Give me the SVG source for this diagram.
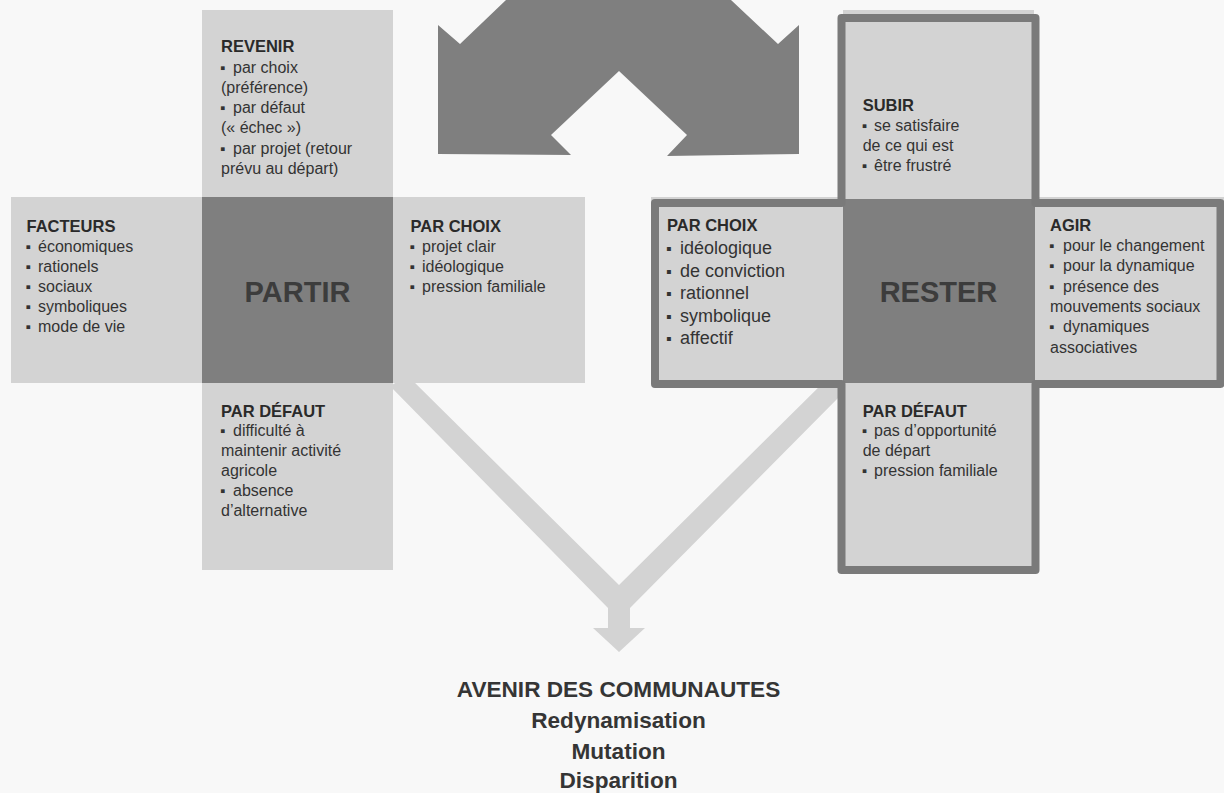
<svg xmlns="http://www.w3.org/2000/svg" width="1224" height="793" viewBox="0 0 1224 793">
<style>
text{font-family:"Liberation Sans",Arial,sans-serif;fill:#333}
.t{font-weight:700;font-size:16.5px;fill:#2a2a2a}
.l{font-size:16px}
.lb{font-size:18px}
.b{font-size:15px}
.bb{font-size:16px}
.big{font-weight:700;font-size:29px;fill:#3c3c3c;text-anchor:middle}
.av{font-weight:700;font-size:22.6px;fill:#353535;text-anchor:middle}
.light{fill:#d3d3d3}
.dark{fill:#7f7f7f}
</style>
<rect width="1224" height="793" fill="#f8f8f8"/>

<g id="connectors">
  <polygon id="arrow-top" class="dark" points="506,0 731,0 778,44 799,25 799,154 667,156 687,135 619,71 551,135 571,155 438,154 438,25 460,44"/>
  <polygon id="arrow-avenir" class="light" points="390,386 408,376 619,585 830,376 845,391 630,608 630,628 645,628 619,652 593,628 608,628 608,608"/>
</g>

<g id="partir">
  <rect class="light" x="202" y="10" width="191" height="560"/>
  <rect class="light" x="11" y="197" width="574" height="186"/>
  <rect class="dark" x="202" y="197" width="191" height="186"/>
  <text class="big" x="297.5" y="301.5">PARTIR</text>
</g>

<g id="partir-revenir">
  <text class="t" x="221" y="52">REVENIR</text>
  <text class="l"><tspan class="b" x="220" y="72.5">▪</tspan><tspan x="233">par choix</tspan></text>
  <text class="l" x="221" y="92.7">(préférence)</text>
  <text class="l"><tspan class="b" x="220" y="113">▪</tspan><tspan x="233">par défaut</tspan></text>
  <text class="l" x="221" y="133.2">(« échec »)</text>
  <text class="l"><tspan class="b" x="220" y="153.5">▪</tspan><tspan x="233">par projet (retour</tspan></text>
  <text class="l" x="221" y="173.7">prévu au départ)</text>
</g>

<g id="partir-facteurs">
  <text class="t" x="26.5" y="231.5">FACTEURS</text>
  <text class="l"><tspan class="b" x="25.5" y="251.7">▪</tspan><tspan x="38">économiques</tspan></text>
  <text class="l"><tspan class="b" x="25.5" y="271.7">▪</tspan><tspan x="38">rationels</tspan></text>
  <text class="l"><tspan class="b" x="25.5" y="291.7">▪</tspan><tspan x="38">sociaux</tspan></text>
  <text class="l"><tspan class="b" x="25.5" y="311.7">▪</tspan><tspan x="38">symboliques</tspan></text>
  <text class="l"><tspan class="b" x="25.5" y="331.7">▪</tspan><tspan x="38">mode de vie</tspan></text>
</g>

<g id="partir-choix">
  <text class="t" x="410.5" y="231.5">PAR CHOIX</text>
  <text class="l"><tspan class="b" x="409.5" y="251.7">▪</tspan><tspan x="422">projet clair</tspan></text>
  <text class="l"><tspan class="b" x="409.5" y="271.7">▪</tspan><tspan x="422">idéologique</tspan></text>
  <text class="l"><tspan class="b" x="409.5" y="291.7">▪</tspan><tspan x="422">pression familiale</tspan></text>
</g>

<g id="partir-defaut">
  <text class="t" x="221" y="416.7">PAR DÉFAUT</text>
  <text class="l"><tspan class="b" x="220" y="436">▪</tspan><tspan x="233">difficulté à</tspan></text>
  <text class="l" x="221" y="456">maintenir activité</text>
  <text class="l" x="221" y="476">agricole</text>
  <text class="l"><tspan class="b" x="220" y="496">▪</tspan><tspan x="233">absence</tspan></text>
  <text class="l" x="221" y="516">d’alternative</text>
</g>

<g id="rester">
  <rect class="light" x="843" y="10" width="191" height="560"/>
  <rect class="light" x="651" y="197" width="573" height="186"/>
  <rect class="dark" x="843" y="199" width="192" height="184"/>
  <path d="M841.5,18 H1035.5 V203 H1220.5 V384 H1035.5 V570 H841.5 V384 H655 V203 H841.5 Z" fill="none" stroke="#7a7a7a" stroke-width="8" stroke-linejoin="round"/>
  <text class="big" x="938.5" y="301.5">RESTER</text>
</g>

<g id="rester-subir">
  <text class="t" x="862.7" y="111">SUBIR</text>
  <text class="l"><tspan class="b" x="861.7" y="131">▪</tspan><tspan x="874">se satisfaire</tspan></text>
  <text class="l" x="862.7" y="151">de ce qui est</text>
  <text class="l"><tspan class="b" x="861.7" y="171">▪</tspan><tspan x="874">être frustré</tspan></text>
</g>

<g id="rester-choix">
  <text class="t" x="667" y="230.7">PAR CHOIX</text>
  <text class="lb"><tspan class="bb" x="666" y="254">▪</tspan><tspan x="680">idéologique</tspan></text>
  <text class="lb"><tspan class="bb" x="666" y="276.5">▪</tspan><tspan x="680">de conviction</tspan></text>
  <text class="lb"><tspan class="bb" x="666" y="299">▪</tspan><tspan x="680">rationnel</tspan></text>
  <text class="lb"><tspan class="bb" x="666" y="321.5">▪</tspan><tspan x="680">symbolique</tspan></text>
  <text class="lb"><tspan class="bb" x="666" y="344">▪</tspan><tspan x="680">affectif</tspan></text>
</g>

<g id="rester-agir">
  <text class="t" x="1050" y="231">AGIR</text>
  <text class="l"><tspan class="b" x="1049" y="251">▪</tspan><tspan x="1063">pour le changement</tspan></text>
  <text class="l"><tspan class="b" x="1049" y="271.3">▪</tspan><tspan x="1063">pour la dynamique</tspan></text>
  <text class="l"><tspan class="b" x="1049" y="291.6">▪</tspan><tspan x="1063">présence des</tspan></text>
  <text class="l" x="1050" y="311.9">mouvements sociaux</text>
  <text class="l"><tspan class="b" x="1049" y="332.2">▪</tspan><tspan x="1063">dynamiques</tspan></text>
  <text class="l" x="1050" y="352.5">associatives</text>
</g>

<g id="rester-defaut">
  <text class="t" x="862.7" y="416.7">PAR DÉFAUT</text>
  <text class="l"><tspan class="b" x="861.7" y="436">▪</tspan><tspan x="874">pas d’opportunité</tspan></text>
  <text class="l" x="862.7" y="456">de départ</text>
  <text class="l"><tspan class="b" x="861.7" y="476">▪</tspan><tspan x="874">pression familiale</tspan></text>
</g>

<g id="avenir">
  <text class="av" x="618.5" y="697">AVENIR DES COMMUNAUTES</text>
  <text class="av" x="618.5" y="728">Redynamisation</text>
  <text class="av" x="618.5" y="758.5">Mutation</text>
  <text class="av" x="618.5" y="788">Disparition</text>
</g>
</svg>
